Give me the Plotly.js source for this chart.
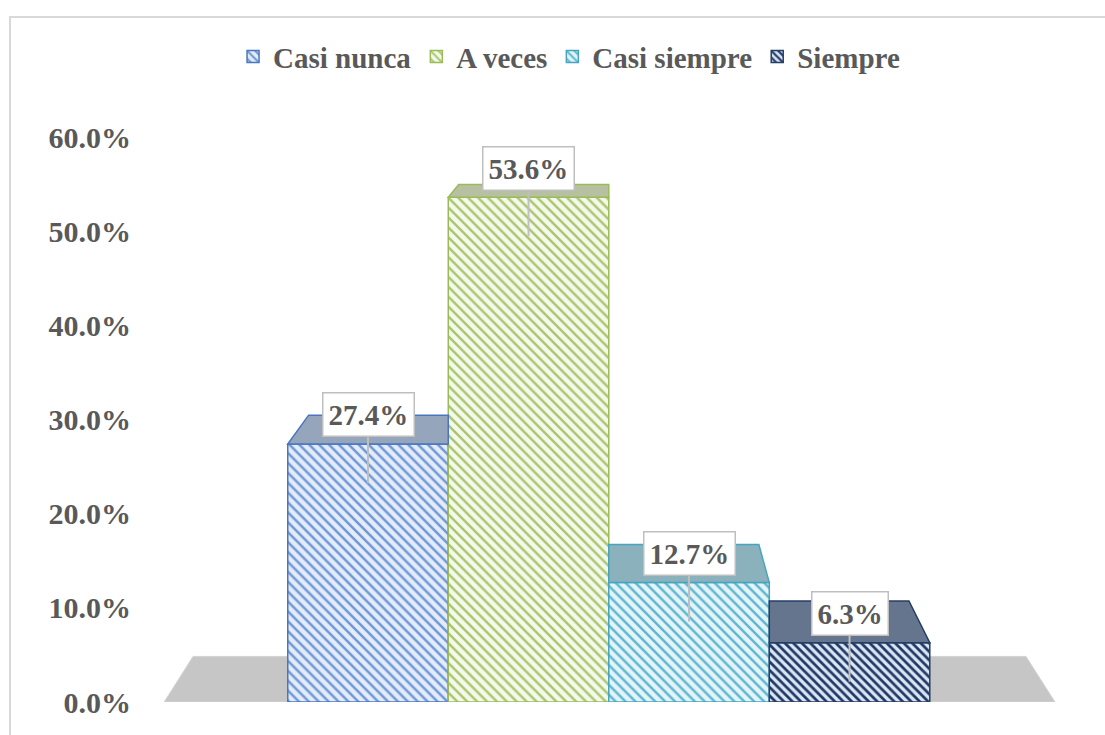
<!DOCTYPE html>
<html>
<head>
<meta charset="utf-8">
<script src="https://cdn.plot.ly/plotly-3.0.1.min.js"></script>
<style>
  body { margin: 0; background: #fff; }
  #chart { position: absolute; left: 0; top: 0; width: 1105px; height: 735px; }
  #frame { position: absolute; left: 9px; top: 16px; width: 1200px; height: 800px;
           border: 2px solid #d9d9d9; pointer-events: none; }
</style>
</head>
<body>
<div id="chart"></div>
<div id="frame"></div>
<script>
'use strict';

// series (one bar each)
const seriesNames = ['Casi nunca', 'A veces', 'Casi siempre', 'Siempre'];
const seriesValues = [0.274, 0.536, 0.127, 0.063];
const valueLabels = ['27.4%', '53.6%', '12.7%', '6.3%'];
const yTickValues = [0, 0.1, 0.2, 0.3, 0.4, 0.5, 0.6];

// styling
const fgColors = ['#6f97d6', '#a9c66f', '#5db7cf', '#1f3864'];
const bgColors = ['#e3ecf8', '#f5f9ec', '#e4f4f9', '#dbe5f4'];
const lineColors = ['#4a76bd', '#9bbb59', '#45a5bf', '#243f66'];
const topColors = ['#95a5bb', '#b7c1a2', '#8ab1bc', '#66758e'];
const textColor = '#595959';
const fontFamily = '"Liberation Serif", "Times New Roman", serif';

// fake perspective: back edge = front point pulled toward vanishing point
const depthFactor = 0.065;
const vanish = { x: 1.5, y: 0.745 };
const floorLeft = -1.27;
const floorRight = 4.28;

const data = seriesNames.map((name, i) => ({
    type: 'bar',
    name: name,
    x: [i],
    y: [seriesValues[i]],
    width: 1,
    hoverinfo: 'skip',
    marker: {
        color: bgColors[i],
        line: { color: lineColors[i], width: 1.5 },
        pattern: {
            shape: '\\',
            fgcolor: fgColors[i],
            bgcolor: bgColors[i],
            size: i === 3 ? 6 : 7,
            solidity: i === 3 ? 0.45 : 0.35
        }
    }
}));

function back(px, py) {
    return [px + depthFactor * (vanish.x - px), py + depthFactor * (vanish.y - py)];
}

const shapes = [];

// floor
const fl = back(floorLeft, 0);
const fr = back(floorRight, 0);
shapes.push({
    type: 'path', xref: 'x', yref: 'y', layer: 'below',
    path: `M ${floorLeft},0 L ${floorRight},0 L ${fr[0]},${fr[1]} L ${fl[0]},${fl[1]} Z`,
    fillcolor: '#c6c6c6',
    line: { color: '#d3d3d3', width: 1 }
});

// bar tops
seriesValues.forEach((v, i) => {
    const x0 = i - 0.5, x1 = i + 0.5;
    const bl = back(x0, v), br = back(x1, v);
    const blx = Math.min(Math.max(bl[0], x0), x1);
    const brx = Math.min(Math.max(br[0], x0), x1);
    shapes.push({
        type: 'path', xref: 'x', yref: 'y', layer: 'above',
        path: `M ${x0},${v} L ${x1},${v} L ${brx},${br[1]} L ${blx},${bl[1]} Z`,
        fillcolor: topColors[i],
        line: { color: lineColors[i], width: 1.5 }
    });
});

const annotations = seriesValues.map((v, i) => ({
    x: i,
    y: v,
    xref: 'x',
    yref: 'y',
    text: valueLabels[i],
    showarrow: true,
    arrowhead: 0,
    arrowwidth: 2,
    arrowcolor: '#bfbfbf',
    ax: 0,
    ay: -68,
    yshift: -39,
    bgcolor: '#ffffff',
    bordercolor: '#bfbfbf',
    borderwidth: 1.5,
    borderpad: 5,
    font: { family: fontFamily, size: 29, color: textColor, weight: 'bold' }
}));

const layout = {
    width: 1105,
    height: 735,
    autosize: false,
    margin: { l: 160, r: 46, t: 137, b: 33 },
    paper_bgcolor: '#ffffff',
    plot_bgcolor: 'rgba(0,0,0,0)',
    showlegend: true,
    legend: {
        orientation: 'h',
        x: 0.455,
        xanchor: 'center',
        y: 1.142,
        yanchor: 'middle',
        font: { family: fontFamily, size: 29, color: textColor, weight: 'bold' },
        itemwidth: 30
    },
    xaxis: {
        range: [-1.296, 4.305],
        showgrid: false,
        zeroline: false,
        showline: false,
        showticklabels: false,
        fixedrange: true
    },
    yaxis: {
        range: [0, 0.6],
        tickvals: yTickValues,
        tickformat: '.1%',
        showgrid: false,
        zeroline: false,
        showline: false,
        ticklabelstandoff: 28,
        tickfont: { family: fontFamily, size: 30, color: textColor, weight: 'bold' },
        fixedrange: true
    },
    shapes: shapes,
    annotations: annotations
};

Plotly.newPlot('chart', data, layout, { displayModeBar: false, staticPlot: true });
</script>
</body>
</html>
